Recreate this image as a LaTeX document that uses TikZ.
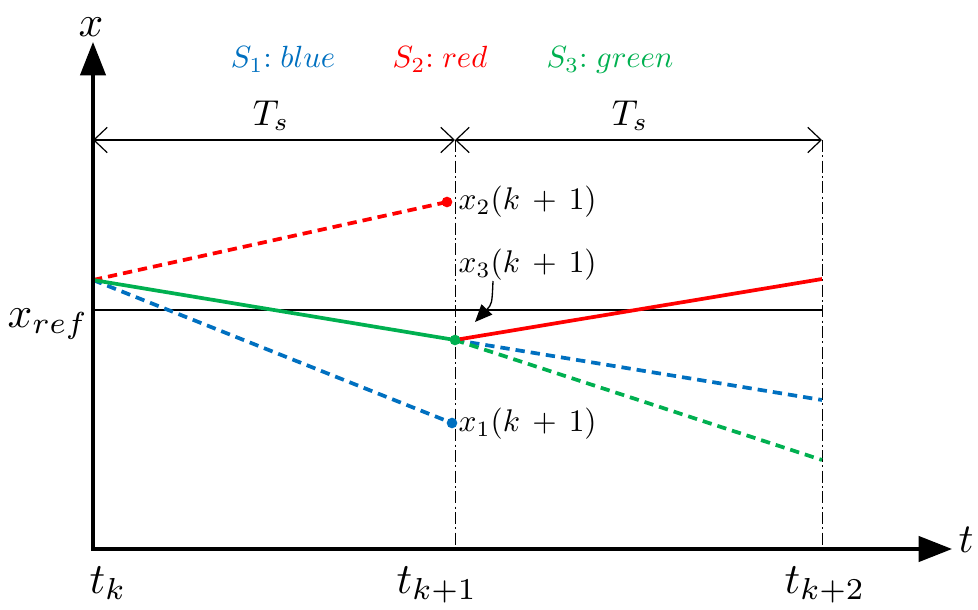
\documentclass[tikz,border=0pt]{standalone}
\usetikzlibrary{arrows.meta}
\definecolor{cblue}{RGB}{0,112,192}
\definecolor{cred}{RGB}{255,0,0}
\definecolor{cgreen}{RGB}{0,176,80}
\begin{document}
\begin{tikzpicture}[x=0.75pt,y=-0.75pt,
  axis/.style={line width=2.4pt,-{Triangle[length=25pt,width=19pt]}},
  refline/.style={line width=2pt,black},
  dimline/.style={line width=0.9pt,{Straight Barb[length=10pt,width=19pt]}-{Straight Barb[length=10pt,width=19pt]}},
  guide/.style={line width=0.7pt,dash pattern=on 9pt off 2.5pt on 1.5pt off 2.5pt},
  traj/.style={line width=2.8pt},
  pred/.style={line width=2.8pt,dash pattern=on 7pt off 4.5pt},
  dot/.style={circle,fill,inner sep=0pt,minimum size=8pt},
  lab/.style={inner sep=0pt,scale=2.35},
  tslab/.style={inner sep=0pt,scale=2.7,anchor=base},
  leg/.style={inner sep=0pt,scale=2.3,anchor=base},
  big/.style={inner sep=0pt,scale=3.25}]
\useasboundingbox (0,0) rectangle (978,610);
% coordinates
\coordinate (O) at (93,549);
\coordinate (Ytop) at (93,42);
\coordinate (Xend) at (952,549);
\coordinate (A) at (93,280);
\coordinate (B) at (455,340);
\coordinate (R1) at (447,202);
\coordinate (B1) at (452,423);
\coordinate (R2) at (822,279);
\coordinate (B2) at (822,400);
\coordinate (G2) at (822,460);
\coordinate (Ref0) at (93,310);
\coordinate (Ref1) at (822,310);
\coordinate (D0) at (93,140);
\coordinate (D1) at (455,140);
\coordinate (D2) at (822,140);
\coordinate (V1) at (455,549);
\coordinate (V2) at (822,549);
% guides
\draw[guide] (D1) -- (V1);
\draw[guide] (D2) -- (V2);
% reference line
\draw[refline] (Ref0) -- (Ref1);
% dimension lines
\draw[dimline] (D0) -- (D1);
\draw[dimline] (D1) -- (D2);
% trajectories
\draw[pred,cred] (A) -- (R1);
\draw[pred,cblue] (A) -- (B1);
\draw[pred,cblue] (B) -- (B2);
\draw[pred,cgreen] (B) -- (G2);
\draw[traj,cgreen] (A) -- (B);
\draw[traj,cred] (B) -- (R2);
\node[dot,cred] (p2) at (R1) {};
\node[dot,cblue] (p1) at (B1) {};
\node[dot,cgreen] (p3) at (B) {};
% axes
\draw[axis] (O) -- (Ytop);
\draw[axis] ([xshift=-1.2pt]O) -- (Xend);
% labels
\node[big] (xl) at (91,27) {$x$};
\node[big,scale=0.95] (tl) at (966,540) {$t$};
\node[big,anchor=base] (xref) at (48,327) {$x_{ref}$};
\node[big,anchor=base] (tk) at (108,593) {$t_k$};
\node[big,anchor=base] (tk1) at (437,593) {$t_{k+1}$};
\node[big,anchor=base] (tk2) at (825,593) {$t_{k+2}$};
\node[tslab] (ts1) at (271,125) {$T_s$};
\node[tslab] (ts2) at (630,125) {$T_s$};
\node[leg,cblue] (s1) at (283,68) {$S_1{:}\;blue$};
\node[leg,cred] (s2) at (440,68) {$S_2{:}\;red$};
\node[leg,cgreen] (s3) at (610,68) {$S_3{:}\;green$};
\node[lab,anchor=west] (l2) at (458,202) {$x_2(k\,+\,1)$};
\node[lab,anchor=west] (l3) at (458,265) {$x_3(k\,+\,1)$};
\node[lab,anchor=west] (l1) at (458,424) {$x_1(k\,+\,1)$};
\coordinate (c3) at (493,281);
\coordinate (c3t) at (475,322);
\draw[line width=1pt,-{Triangle[length=13pt,width=11pt]}] (c3) .. controls (492,304) .. (c3t);
\end{tikzpicture}
\end{document}
